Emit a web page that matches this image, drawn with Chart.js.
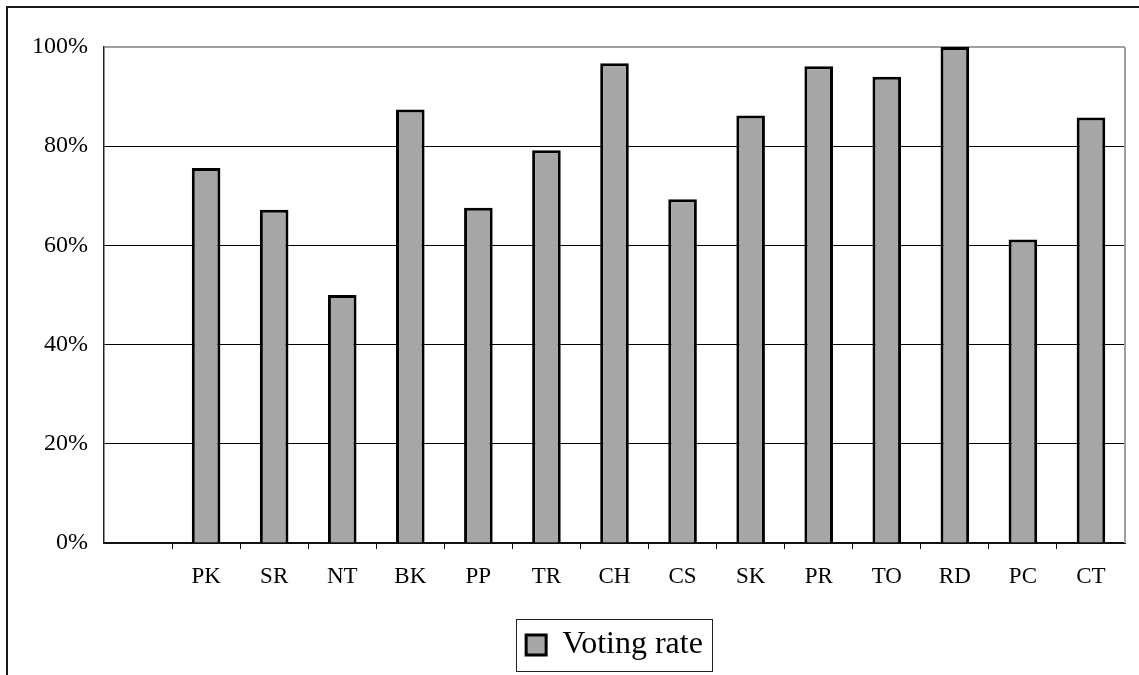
<!DOCTYPE html>
<html>
<head>
<meta charset="utf-8">
<script src="https://cdn.jsdelivr.net/npm/chart.js@4/dist/chart.umd.min.js"></script>
<style>
  html, body { margin: 0; padding: 0; background: #fff; }
  #wrap { position: absolute; left: 0; top: 0; width: 1139px; height: 675px; }
</style>
</head>
<body>
<div id="wrap"><canvas id="myChart" width="1139" height="675"></canvas></div>
<script>
// categories, first slot is left empty like in the original sheet
var categories = ['', 'PK', 'SR', 'NT', 'BK', 'PP', 'TR', 'CH', 'CS', 'SK', 'PR', 'TO', 'RD', 'PC', 'CT'];
var votingRate = [null, 75.6, 67.2, 50.0, 87.4, 67.6, 79.2, 96.7, 69.3, 86.2, 96.1, 94.0, 100, 61.2, 85.8];
var yTickValues = [0, 20, 40, 60, 80, 100];
var seriesName = 'Voting rate';

var serif = "'Liberation Serif', 'Times New Roman', serif";

// outer frame of the chart object
var outerFrame = {
    id: 'outerFrame',
    beforeDraw: function (chart) {
        var ctx = chart.ctx;
        ctx.save();
        ctx.fillStyle = '#fff';
        ctx.fillRect(0, 0, chart.width, chart.height);
        ctx.strokeStyle = '#1a1a1a';
        ctx.lineWidth = 2;
        ctx.strokeRect(7, 7, chart.width + 20, chart.height + 20);
        ctx.restore();
    }
};

// gray plot area border (right side)
var plotFrame = {
    id: 'plotFrame',
    beforeDatasetsDraw: function (chart) {
        var a = chart.chartArea;
        var ctx = chart.ctx;
        ctx.save();
        ctx.strokeStyle = '#a0a0a0';
        ctx.lineWidth = 2;
        ctx.beginPath();
        ctx.moveTo(a.right, a.top);
        ctx.lineTo(a.right, a.bottom);
        ctx.stroke();
        ctx.restore();
    }
};

// box around the legend
var legendFrame = {
    id: 'legendFrame',
    afterDraw: function (chart) {
        var lg = chart.legend;
        if (!lg || !lg.legendHitBoxes || !lg.legendHitBoxes.length) return;
        var hb = lg.legendHitBoxes[0];
        var cy = hb.top + hb.height / 2;
        var ctx = chart.ctx;
        ctx.save();
        ctx.strokeStyle = '#222';
        ctx.lineWidth = 1;
        ctx.strokeRect(Math.round(hb.left - 10) + 0.5, Math.round(cy - 26) + 0.5, Math.round(hb.width + 19), 52);
        ctx.restore();
    }
};

var ctx = document.getElementById('myChart').getContext('2d');
var chart = new Chart(ctx, {
    type: 'bar',
    data: {
        labels: categories,
        datasets: [{
            label: seriesName,
            data: votingRate,
            backgroundColor: '#a6a6a6',
            borderColor: '#000',
            borderWidth: 3,
            borderSkipped: 'bottom',
            categoryPercentage: 1.0,
            barPercentage: 0.42
        }]
    },
    options: {
        responsive: false,
        animation: false,
        layout: { padding: { top: 47, left: 0, right: 14, bottom: 4 } },
        plugins: {
            tooltip: { enabled: false },
            legend: {
                position: 'bottom',
                fullSize: false,
                labels: {
                    color: '#000',
                    font: { family: serif, size: 32 },
                    boxWidth: 20,
                    boxHeight: 20,
                    padding: 12
                }
            }
        },
        scales: {
            x: {
                offset: true,
                afterFit: function (scale) { scale.height = 74; },
                grid: {
                    display: true,
                    offset: true,
                    drawOnChartArea: false,
                    drawTicks: true,
                    tickLength: 6,
                    color: function (c) { return c.index > 0 ? '#000' : 'rgba(0,0,0,0)'; }
                },
                border: { display: true, color: '#111', width: 2 },
                ticks: {
                    color: '#000',
                    font: { family: serif, size: 23 },
                    padding: 14,
                    maxRotation: 0,
                    autoSkip: false
                }
            },
            y: {
                min: 0,
                max: 100,
                afterFit: function (scale) { scale.width = 104; },
                afterBuildTicks: function (scale) {
                    scale.ticks = yTickValues.map(function (v) { return { value: v }; });
                },
                grid: {
                    drawTicks: false,
                    color: function (c) { return c.tick && c.tick.value === 100 ? '#a0a0a0' : '#000'; },
                    lineWidth: function (c) { return c.tick && c.tick.value === 100 ? 2 : 1; }
                },
                border: { display: true, color: '#222', width: 1.5 },
                ticks: {
                    color: '#000',
                    font: { family: serif, size: 24 },
                    padding: 16,
                    callback: function (v) { return v + '%'; }
                }
            }
        }
    },
    plugins: [outerFrame, plotFrame, legendFrame]
});
</script>
</body>
</html>
